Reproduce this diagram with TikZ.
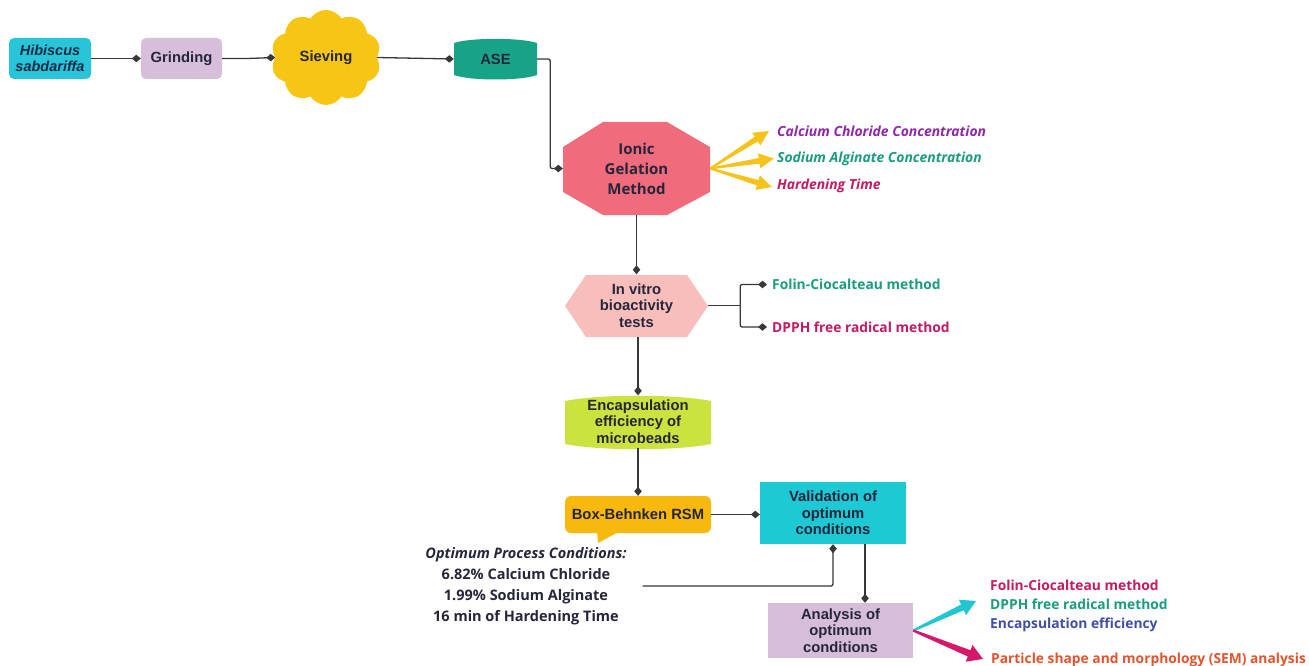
\documentclass[tikz,border=0pt]{standalone}
\usepackage{fontspec}
\setmainfont{Liberation Sans}
\newfontfamily\opensans{Open Sans}
\usetikzlibrary{shapes.geometric,shapes.symbols,arrows.meta,calc}
\definecolor{cHib}{HTML}{27C5D7}
\definecolor{cGrind}{HTML}{D7BFD9}
\definecolor{cSieve}{HTML}{F7C614}
\definecolor{cASE}{HTML}{18A386}
\definecolor{cOct}{HTML}{F06B7C}
\definecolor{cHex}{HTML}{F8BEBB}
\definecolor{cEnc}{HTML}{CCE33F}
\definecolor{cBox}{HTML}{F8B90C}
\definecolor{cVal}{HTML}{1CC9D5}
\definecolor{cAna}{HTML}{D6BDD8}
\definecolor{cTxt}{HTML}{26263A}
\definecolor{cHibTxt}{HTML}{1B2B48}
\definecolor{cLine}{HTML}{383838}
\definecolor{tPurp}{HTML}{8E27A8}
\definecolor{tTeal}{HTML}{1A9C7E}
\definecolor{tMag}{HTML}{C41A62}
\definecolor{tBlue}{HTML}{3F4FA6}
\definecolor{tOrg}{HTML}{E4532E}
\definecolor{aYel}{HTML}{F5C31A}
\definecolor{aCyan}{HTML}{22C6D3}
\definecolor{aMag}{HTML}{D6186A}
\newcommand\fatarrow[5]{%
  \fill[#1] ($(#2)!#4/3!90:(#3)$) -- ($($(#3)!15pt!(#2)$)!#4!90:(#3)$) -- ($($(#3)!15pt!(#2)$)!#5!90:(#3)$) -- (#3) -- ($($(#3)!15pt!(#2)$)!#5!-90:(#3)$) -- ($($(#3)!15pt!(#2)$)!#4!-90:(#3)$) -- ($(#2)!#4/3!-90:(#3)$) -- cycle;}
\tikzset{
  base/.style={font=\fontsize{14.8}{16.5}\selectfont\bfseries, text=cTxt, align=center, inner sep=0pt},
  obase/.style={font=\opensans\fontsize{15}{20}\selectfont\bfseries, text=cTxt, align=center, inner sep=0pt},
  conn/.style={draw=cLine, line width=1.3pt, -{Diamond[length=9pt,width=7.5pt]}, rounded corners=2pt},
  side/.style={font=\opensans\fontsize{13.9}{15}\selectfont\bfseries\itshape, anchor=west, inner sep=0pt},
  sideup/.style={font=\opensans\fontsize{13.8}{15}\selectfont\bfseries, anchor=west, inner sep=0pt},
}
\begin{document}
\begin{tikzpicture}[x=1pt,y=-1pt]
\fill[white] (0,0) rectangle (1309,666);
\useasboundingbox (0,0) rectangle (1309,666);

% shapes drawn directly
\fill[cASE] (454,43) .. controls (470,37.5) and (521,37.5) .. (537,43) -- (537,75) .. controls (521,81) and (470,81) .. (454,75) -- cycle;
\fill[cOct] (603,122) -- (667,122) -- (710,147) -- (710,192) -- (667,215) -- (603,215) -- (563,192) -- (563,147) -- cycle;
\fill[cHex] (565,306) -- (586,275) -- (687,275) -- (708,306) -- (687,337) -- (586,337) -- cycle;
\fill[cEnc] (565,401) .. controls (600,394) and (676,394) .. (711,401) -- (711,444) .. controls (676,451) and (600,451) .. (565,444) -- cycle;
\fill[cBox] (597,531) -- (620,531) -- (598,543) -- cycle;

% nodes
\node[base, fill=cHib, rounded corners=5pt, minimum width=82pt, minimum height=41pt, text=cHibTxt, font=\fontsize{14.5}{16}\selectfont\bfseries\itshape] (hib) at (50,58.5) {Hibiscus\\sabdariffa};
\node[base, fill=cGrind, rounded corners=5pt, minimum width=81pt, minimum height=41pt] (grind) at (181.5,58.5) {Grinding};
\node[base, cloud, cloud puffs=10, cloud puff arc=115, fill=cSieve, minimum width=110pt, minimum height=95pt] (sieve) at (326,57.5) {Sieving};
\node[base, minimum width=83pt, minimum height=40pt] (ase) at (495.5,59) {ASE};
\node[obase, minimum width=147pt, minimum height=93pt] (oct) at (636.5,168.5) {Ionic\\Gelation\\Method};
\node[base, minimum width=143pt, minimum height=62pt] (hex) at (636.5,305.5) {In vitro\\bioactivity\\tests};
\node[base, minimum width=146pt, minimum height=52pt] (enc) at (638,421.5) {Encapsulation\\efficiency of\\microbeads};
\node[base, fill=cBox, rounded corners=6pt, minimum width=146pt, minimum height=37pt] (bbr) at (638,514.5) {Box-Behnken RSM};
\node[base, fill=cVal, minimum width=146pt, minimum height=62pt] (val) at (833,513) {Validation of\\optimum\\conditions};
\node[base, fill=cAna, minimum width=145pt, minimum height=55pt] (ana) at (840.5,630.5) {Analysis of\\optimum\\conditions};

\node[font=\opensans\fontsize{14.5}{21}\selectfont\bfseries, text=cTxt, align=center, inner sep=0pt] (opt) at (526,586) {{\itshape Optimum Process Conditions:}\\6.82\% Calcium Chloride\\1.99\% Sodium Alginate\\16 min of Hardening Time};

% side texts
\node[side, text=tPurp] (cc) at (777,131) {Calcium Chloride Concentration};
\node[side, text=tTeal] (sa) at (777,158.5) {Sodium Alginate Concentration};
\node[side, text=tMag] (ht) at (777,186) {Hardening Time};
\node[sideup, text=tTeal] (fc1) at (772,284.5) {Folin-Ciocalteau method};
\node[sideup, text=tMag] (dp1) at (772,327) {DPPH free radical method};
\node[sideup, text=tMag] (fc2) at (990,585.5) {Folin-Ciocalteau method};
\node[sideup, text=tTeal] (dp2) at (990,604.5) {DPPH free radical method};
\node[sideup, text=tBlue] (ee2) at (990,624.5) {Encapsulation efficiency};
\node[sideup, text=tOrg] (pa2) at (991,660) {Particle shape and morphology (SEM) analysis};

% connectors
\draw[conn] (hib.east) -- (grind.west);
\draw[conn] (grind.east) -- ++(25,0) -- (sieve.west);
\draw[conn] (sieve.east) -- (ase.west);
\draw[conn] (ase.east) -- ++(13,0) |- (oct.west);
\draw[conn] (oct.south) -- (hex.north);
\draw[draw=cLine, line width=1.3pt] (hex.east) -- ++(32,0) coordinate (br);
\draw[conn] (br) |- ([xshift=-5pt]fc1.west);
\draw[conn] (br) |- ([xshift=-5pt]dp1.west);
\draw[conn] (hex.south -| enc.north) -- (enc.north);
\draw[conn] (enc.south) -- (bbr.north);
\draw[conn] (bbr.east) -- (bbr.east -| val.west);
\draw[conn] ([xshift=16pt]opt.east) -| (val.south);
\draw[conn] ([xshift=32pt]val.south) -- ([xshift=32pt]val.south |- ana.north);

% fat arrows
\coordinate (y1) at (769,131);
\coordinate (y2) at (774,158.5);
\coordinate (y3) at (772,187);
\coordinate (c1) at (976,601);
\coordinate (m1) at (983,659);
\fatarrow{aYel}{oct.east}{y1}{2.8pt}{7.5pt}
\fatarrow{aYel}{oct.east}{y2}{2.8pt}{7.5pt}
\fatarrow{aYel}{oct.east}{y3}{2.8pt}{7.5pt}
\fatarrow{aCyan}{ana.east}{c1}{3.2pt}{8.5pt}
\fatarrow{aMag}{ana.east}{m1}{3.4pt}{9pt}
\end{tikzpicture}
\end{document}
